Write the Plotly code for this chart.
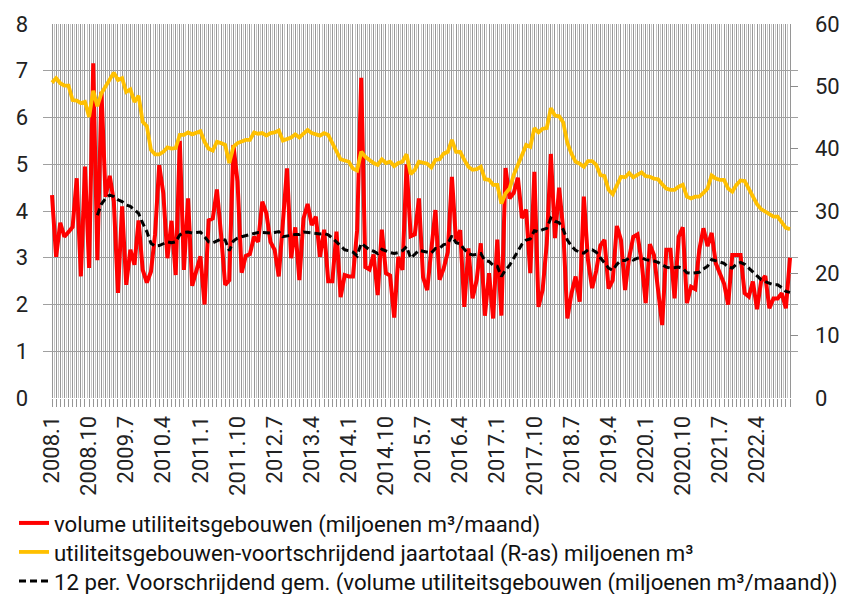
import plotly.graph_objects as go

# Monthly categories 2008.1 .. 2022.12
months = [f"{y}.{m}" for y in range(2008, 2023) for m in range(1, 13)]
tick_labels = ["2008.1", "2008.10", "2009.7", "2010.4", "2011.1", "2011.10", "2012.7",
               "2013.4", "2014.1", "2014.10", "2015.7", "2016.4", "2017.1", "2017.10",
               "2018.7", "2019.4", "2020.1", "2020.10", "2021.7", "2022.4"]

volume = [4.34, 3.02, 3.75, 3.45, 3.55, 3.66, 4.7, 2.6, 4.95, 2.78,
          7.16, 2.95, 6.55, 4.3, 4.75, 4.2, 2.25, 4.1, 2.42, 3.17,
          2.85, 3.8, 2.74, 2.47, 2.7, 3.5, 4.98, 4.38, 2.99, 3.79,
          2.63, 5.5, 2.74, 4.27, 2.4, 2.72, 3.03, 2.0, 3.8, 3.84,
          4.46, 3.5, 2.42, 2.52, 5.41, 4.63, 2.68, 3.04, 3.08, 3.45,
          3.34, 4.2, 3.95, 3.34, 3.17, 2.6, 3.8, 4.91, 2.99, 3.65,
          2.52, 3.84, 4.15, 3.7, 3.88, 3.02, 3.6, 2.5, 2.5, 3.56,
          2.16, 2.63, 2.6, 2.6, 3.58, 6.85, 2.8, 2.75, 3.07, 2.2,
          3.6, 2.67, 2.62, 1.72, 3.02, 2.74, 5.0, 3.46, 3.5, 4.27,
          2.58, 2.31, 3.17, 4.02, 2.53, 2.77, 3.12, 4.73, 3.35, 3.59,
          1.95, 3.2, 2.13, 2.52, 3.31, 1.76, 2.67, 1.7, 3.39, 1.76,
          4.92, 4.27, 4.39, 4.71, 3.85, 4.03, 2.67, 4.84, 1.95, 2.31,
          3.3, 5.22, 3.42, 4.5, 3.6, 1.7, 2.24, 2.6, 2.06, 4.31,
          2.95, 2.35, 2.72, 3.26, 3.38, 2.34, 2.52, 3.68, 3.38, 2.31,
          3.01, 3.45, 3.5, 2.92, 2.03, 3.29, 3.06, 2.35, 1.56, 3.17,
          3.17, 2.13, 3.45, 3.65, 2.03, 2.38, 2.33, 3.17, 3.63, 3.25,
          3.53, 2.88, 2.67, 2.45, 2.0, 3.06, 3.06, 3.06, 2.24, 2.17,
          2.49, 1.9, 2.5, 2.61, 1.92, 2.13, 2.13, 2.24, 1.92, 3.0]

year_total = [50.6, 51.3, 50.5, 50.1, 50.1, 47.8, 47.7, 47.3, 47.5, 45.1,
              49.3, 46.8, 48.9, 50.1, 51.3, 52.2, 51.0, 51.3, 49.1, 49.5,
              47.5, 48.5, 44.3, 43.6, 39.8, 39.1, 39.1, 39.5, 40.2, 40.0,
              40.1, 42.2, 42.2, 42.6, 42.3, 42.6, 42.8, 41.1, 40.0, 39.7,
              41.1, 40.9, 40.6, 37.7, 40.3, 40.9, 41.1, 41.4, 41.4, 42.6,
              42.4, 42.5, 42.1, 42.5, 42.6, 42.9, 41.3, 41.5, 41.8, 42.3,
              41.8, 42.4, 43.0, 42.5, 42.3, 42.1, 42.5, 42.2, 40.9, 39.5,
              38.3, 38.1, 37.9, 36.8, 36.5, 39.5, 38.7, 38.2, 37.7, 37.4,
              38.3, 37.7, 37.9, 37.2, 37.7, 37.9, 39.1, 35.9, 36.6, 37.9,
              37.7, 37.6, 37.0, 38.2, 38.3, 39.2, 39.5, 41.4, 39.5, 39.5,
              38.2, 37.1, 36.6, 36.7, 37.1, 35.1, 35.0, 34.2, 34.2, 31.2,
              32.8, 33.6, 35.8, 37.4, 39.2, 40.6, 40.3, 43.3, 42.6, 43.2,
              43.3, 46.5, 45.3, 45.2, 44.2, 40.9, 39.2, 37.9, 37.6, 37.1,
              38.0, 38.0, 37.4, 35.8, 35.6, 33.4, 32.7, 34.2, 35.5, 35.4,
              36.1, 35.4, 35.8, 36.2, 35.6, 35.5, 35.2, 35.1, 34.3, 33.6,
              33.4, 33.4, 33.9, 34.2, 32.3, 32.0, 32.3, 32.3, 32.9, 33.6,
              35.7, 35.2, 35.0, 35.0, 33.6, 33.1, 34.2, 34.9, 34.8, 33.6,
              32.3, 31.1, 30.3, 29.9, 29.4, 29.1, 29.1, 28.3, 27.3, 27.1]

moving_avg = [None] * 11 + [
    3.91, 4.15, 4.27, 4.34, 4.31, 4.24, 4.2, 4.13, 4.1,
    4.02, 3.95, 3.74, 3.56, 3.31, 3.25, 3.26, 3.3, 3.34, 3.32,
    3.34, 3.49, 3.54, 3.55, 3.53, 3.54, 3.55, 3.45, 3.34, 3.32,
    3.36, 3.4, 3.38, 3.15, 3.36, 3.42, 3.45, 3.47, 3.5, 3.52,
    3.54, 3.54, 3.53, 3.53, 3.54, 3.56, 3.45, 3.46, 3.48, 3.5,
    3.5, 3.55, 3.54, 3.53, 3.52, 3.51, 3.52, 3.49, 3.42, 3.34,
    3.27, 3.17, 3.15, 3.12, 3.04, 3.31, 3.24, 3.17, 3.14, 3.09,
    3.18, 3.14, 3.11, 3.09, 3.11, 3.15, 3.24, 2.99, 3.07, 3.16,
    3.14, 3.12, 3.1, 3.2, 3.2, 3.28, 3.3, 3.47, 3.32, 3.3,
    3.18, 3.09, 3.06, 3.07, 3.09, 2.94, 2.92, 2.84, 2.82, 2.6,
    2.74, 2.84, 3.0, 3.14, 3.29, 3.38, 3.4, 3.58, 3.56, 3.6,
    3.63, 3.85, 3.78, 3.75, 3.6, 3.38, 3.25, 3.16, 3.12, 3.1,
    3.17, 3.17, 3.12, 3.0, 2.9, 2.78, 2.73, 2.86, 2.94, 2.94,
    2.99, 2.95, 2.99, 3.0, 2.96, 2.95, 2.93, 2.9, 2.85, 2.8,
    2.78, 2.79, 2.8, 2.77, 2.68, 2.67, 2.68, 2.69, 2.76, 2.82,
    2.96, 2.93, 2.9, 2.88, 2.8, 2.78, 2.86, 2.9, 2.86, 2.78,
    2.68, 2.6, 2.53, 2.49, 2.45, 2.42, 2.42, 2.36, 2.28, 2.26]

x = list(range(len(months)))
ticktext = [m if m in tick_labels else "" for m in months]

FONT = "Roboto"
LEG_FONT = dict(family=FONT, size=22.2, color="#111111")

fig = go.Figure()
fig.add_trace(go.Scatter(
    x=x, y=volume, mode="lines", legend="legend",
    name="volume utiliteitsgebouwen (miljoenen m³/maand)",
    line=dict(color="#FF0000", width=4)))
fig.add_trace(go.Scatter(
    x=x, y=year_total, mode="lines", yaxis="y2", legend="legend2",
    name="utiliteitsgebouwen-voortschrijdend jaartotaal (R-as) miljoenen m³",
    line=dict(color="#FFC000", width=3.8)))
fig.add_trace(go.Scatter(
    x=x, y=moving_avg, mode="lines", legend="legend3",
    name="12 per. Voorschrijdend gem. (volume utiliteitsgebouwen (miljoenen m³/maand))",
    line=dict(color="#000000", width=3, dash="7px,4px")))

n = len(months)
lo = -9 / 4.1229
hi = (n - 1) + 8 / 4.1229


def leg(yc):
    return dict(xref="container", yref="container",
                x=14 / 845, y=1 - yc / 594, xanchor="left", yanchor="middle",
                font=LEG_FONT, bgcolor="rgba(0,0,0,0)", borderwidth=0,
                itemwidth=30)


fig.update_layout(
    width=845, height=594,
    margin=dict(l=43, r=47, t=24, b=196, autoexpand=False),
    paper_bgcolor="white", plot_bgcolor="white",
    font=dict(family=FONT, size=22, color="#222222"),
    showlegend=True,
    legend=leg(523), legend2=leg(552), legend3=leg(581),
    xaxis=dict(
        range=[lo, hi], tickmode="array", tickvals=x, ticktext=ticktext,
        tickangle=-90, ticks="outside", ticklen=8, tickcolor="#969696",
        tickfont=dict(family=FONT, size=22, color="#222222"),
        showgrid=True, gridcolor="#969696", gridwidth=1,
        zeroline=False, showline=False, automargin=False,
        minor=dict(tickmode="array", tickvals=[i + 0.5 for i in range(n - 1)],
                   showgrid=True, gridcolor="#c6c6c6", gridwidth=1, ticks=""),
    ),
    yaxis=dict(
        range=[0, 8], dtick=1, tick0=0, automargin=False,
        showgrid=True, gridcolor="#a0a0a0", gridwidth=1.3,
        zeroline=False, showline=False,
        ticks="", ticklabelstandoff=14,
        tickfont=dict(family=FONT, size=22, color="#222222"),
    ),
    yaxis2=dict(
        range=[0, 60], dtick=10, tick0=0, overlaying="y", side="right",
        showgrid=False, zeroline=False, showline=False, automargin=False,
        ticks="inside", ticklen=8, tickcolor="#8c8c8c", tickwidth=1.3,
        ticklabelstandoff=16,
        tickfont=dict(family=FONT, size=22, color="#222222"),
    ),
)

fig.write_html("out.html", config={"displayModeBar": False},
               post_script="document.body.style.margin='0';")
